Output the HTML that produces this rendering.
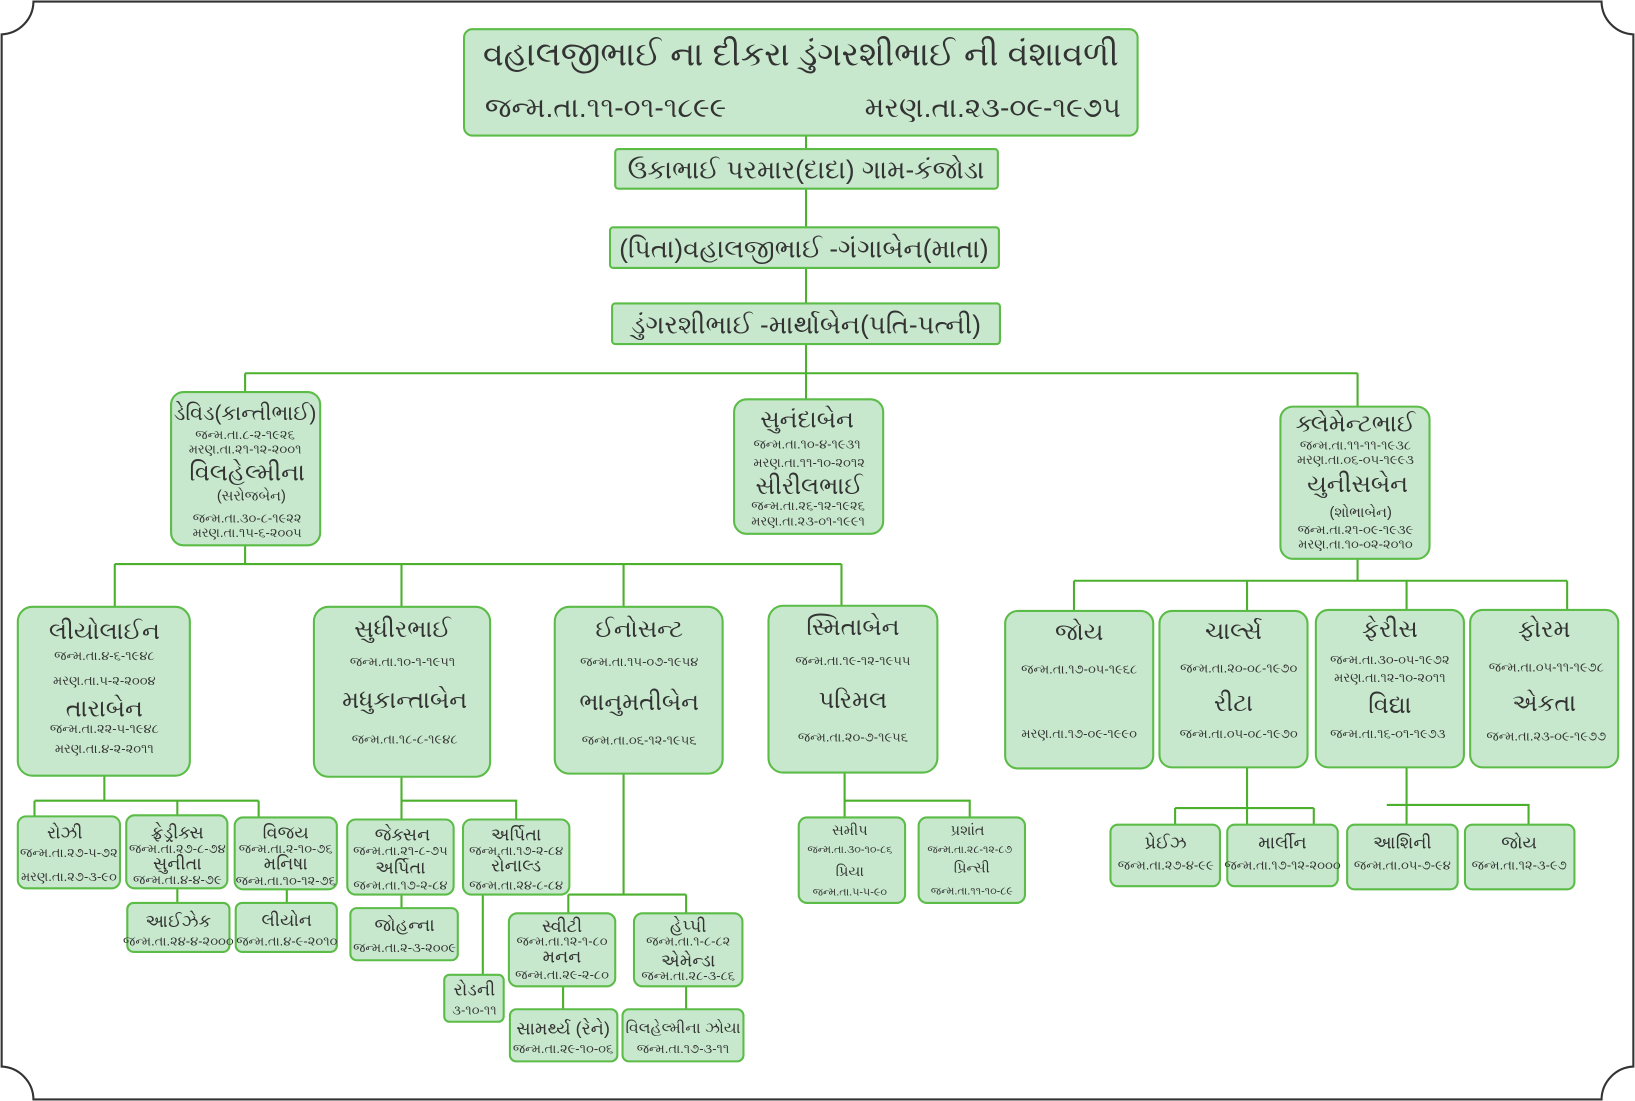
<!DOCTYPE html>
<html><head><meta charset="utf-8"><style>
html,body{margin:0;padding:0;background:#fff;}
svg{display:block}
.b{fill:#c7e8cd;stroke:#5cbc48;stroke-width:2}
.l{stroke:#4bb02c;stroke-width:2;fill:none}
text{font-family:"Liberation Sans","Noto Sans CJK SC",sans-serif;fill:#333;text-anchor:middle}
.t{font-size:32px}
.h{font-size:25px}
.dd{font-size:27px}
.n{font-size:23px}
.s{font-size:17px}
.p{font-size:14px}
.d{font-size:12.5px}
.e{font-size:10.5px}
</style></head><body>
<svg width="1635" height="1101" viewBox="0 0 1568 1056" xmlns="http://www.w3.org/2000/svg">
<path d="M32,1.5 H1536 A32,32 0 0 0 1566.5,33 V1023 A32,32 0 0 0 1536,1054.5 H32 A32,32 0 0 0 1.5,1023 V33 A32,32 0 0 0 32,1.5 Z" fill="none" stroke="#333" stroke-width="2"/>
<path class="l" d="M773,130V383 M235,358H1302 M235,358V376 M1302,358V390
M235,523V541 M110,541H807 M110,541V582 M385,541V582 M598,541V582 M807,541V581
M1302,536V557 M1030,557H1503 M1030,557V586 M1196,557V586 M1349,557V585 M1503,557V585
M100,744V768 M33,768H248 M33,768V783 M170,768V782 M248,768V784 M170,852V866 M275,853V866
M385,745V786 M385,768H495V786 M385,858V871 M463,858V935
M598,742V858 M545,858H658 M545,858V876 M658,858V876 M540,946V968 M658,946V968
M810,741V784 M810,768H930V784
M1196,736V791 M1127,775H1260 M1127,775V791 M1260,775V791
M1349,736V791 M1330,772H1466V791"/>
<rect class="b" x="445" y="28" width="646" height="102" rx="8"/>
<text class="t" x="768" y="63">વહાલજીભાઈ ના દીકરા ડુંગરશીભાઈ ની વંશાવળી</text>
<text class="dd" x="465" y="112" style="text-anchor:start">જન્મ.તા.૧૧-૦૧-૧૮૯૯</text>
<text class="dd" x="1075" y="112" style="text-anchor:end">મરણ.તા.૨૩-૦૯-૧૯૭૫</text>
<rect class="b" x="590" y="143" width="367" height="38" rx="3"/>
<text class="h" x="773" y="171">ઉકાભાઈ પરમાર(દાદા) ગામ-કંજોડા</text>
<rect class="b" x="585" y="218" width="373" height="39" rx="3"/>
<text class="h" x="771" y="247">(પિતા)વહાલજીભાઈ -ગંગાબેન(માતા)</text>
<rect class="b" x="587" y="291" width="372" height="39" rx="3"/>
<text class="h" x="773" y="320">ડુંગરશીભાઈ -માર્થાબેન(પતિ-પત્ની)</text>
<rect class="b" x="164" y="376" width="143" height="147" rx="12"/>
<text class="n" x="235" y="403" style="font-size:20px">ડેવિડ(કાન્તીભાઈ)</text>
<text class="d" x="235" y="421">જન્મ.તા.૮-૨-૧૯૨૬</text>
<text class="d" x="235" y="435">મરણ.તા.૨૧-૧૨-૨૦૦૧</text>
<text class="n" x="237" y="461">વિલહેલ્મીના</text>
<text class="p" x="241" y="480">(સરોજબેન)</text>
<text class="d" x="237" y="501">જન્મ.તા.૩૦-૮-૧૯૨૨</text>
<text class="d" x="237" y="515">મરણ.તા.૧૫-૬-૨૦૦૫</text>
<rect class="b" x="704" y="383" width="143" height="129" rx="12"/>
<text class="n" x="774" y="410">સુનંદાબેન</text>
<text class="d" x="774" y="430">જન્મ.તા.૧૦-૪-૧૯૩૧</text>
<text class="d" x="776" y="448">મરણ.તા.૧૧-૧૦-૨૦૧૨</text>
<text class="n" x="776" y="474">સીરીલભાઈ</text>
<text class="d" x="775" y="489">જન્મ.તા.૨૬-૧૨-૧૯૨૬</text>
<text class="d" x="775" y="504">મરણ.તા.૨૩-૦૧-૧૯૯૧</text>
<rect class="b" x="1228" y="390" width="143" height="146" rx="12"/>
<text class="n" x="1300" y="414">ક્લેમેન્ટભાઈ</text>
<text class="d" x="1300" y="431">જન્મ.તા.૧૧-૧૧-૧૯૩૮</text>
<text class="d" x="1300" y="445">મરણ.તા.૦૬-૦૫-૧૯૯૩</text>
<text class="n" x="1302" y="472">યુનીસબેન</text>
<text class="p" x="1305" y="496">(શોભાબેન)</text>
<text class="d" x="1300" y="512">જન્મ.તા.૨૧-૦૯-૧૯૩૯</text>
<text class="d" x="1300" y="526">મરણ.તા.૧૦-૦૨-૨૦૧૦</text>
<rect class="b" x="17" y="582" width="165" height="162" rx="14"/>
<text class="n" x="100" y="613">લીયોલાઈન</text>
<text class="d" x="100" y="633">જન્મ.તા.૪-૬-૧૯૪૮</text>
<text class="d" x="100" y="657">મરણ.તા.૫-૨-૨૦૦૪</text>
<text class="n" x="100" y="687">તારાબેન</text>
<text class="d" x="100" y="703">જન્મ.તા.૨૨-૫-૧૯૪૮</text>
<text class="d" x="100" y="722">મરણ.તા.૪-૨-૨૦૧૧</text>
<rect class="b" x="301" y="582" width="169" height="163" rx="14"/>
<text class="n" x="386" y="611">સુધીરભાઈ</text>
<text class="d" x="386" y="639">જન્મ.તા.૧૦-૧-૧૯૫૧</text>
<text class="n" x="388" y="679">મધુકાન્તાબેન</text>
<text class="d" x="388" y="713">જન્મ.તા.૧૮-૮-૧૯૪૮</text>
<rect class="b" x="532" y="582" width="161" height="160" rx="14"/>
<text class="n" x="613" y="611">ઈનોસન્ટ</text>
<text class="d" x="613" y="639">જન્મ.તા.૧૫-૦૭-૧૯૫૪</text>
<text class="n" x="613" y="681">ભાનુમતીબેન</text>
<text class="d" x="613" y="714">જન્મ.તા.૦૬-૧૨-૧૯૫૬</text>
<rect class="b" x="737" y="581" width="162" height="160" rx="14"/>
<text class="n" x="818" y="609">સ્મિતાબેન</text>
<text class="d" x="818" y="638">જન્મ.તા.૧૯-૧૨-૧૯૫૫</text>
<text class="n" x="818" y="679">પરિમલ</text>
<text class="d" x="818" y="711">જન્મ.તા.૨૦-૭-૧૯૫૬</text>
<rect class="b" x="964" y="586" width="142" height="151" rx="12"/>
<text class="n" x="1035" y="614">જોય</text>
<text class="d" x="1035" y="646">જન્મ.તા.૧૭-૦૫-૧૯૬૮</text>
<text class="d" x="1035" y="708">મરણ.તા.૧૭-૦૯-૧૯૯૦</text>
<rect class="b" x="1112" y="586" width="142" height="150" rx="12"/>
<text class="n" x="1183" y="613">ચાર્લ્સ</text>
<text class="d" x="1188" y="645">જન્મ.તા.૨૦-૦૮-૧૯૭૦</text>
<text class="n" x="1183" y="682">રીટા</text>
<text class="d" x="1188" y="708">જન્મ.તા.૦૫-૦૮-૧૯૭૦</text>
<rect class="b" x="1262" y="585" width="142" height="151" rx="12"/>
<text class="n" x="1333" y="611">ફેરીસ</text>
<text class="d" x="1333" y="637">જન્મ.તા.૩૦-૦૫-૧૯૭૨</text>
<text class="d" x="1333" y="654">મરણ.તા.૧૨-૧૦-૨૦૧૧</text>
<text class="n" x="1333" y="684">વિદ્યા</text>
<text class="d" x="1331" y="708">જન્મ.તા.૧૬-૦૧-૧૯૭૩</text>
<rect class="b" x="1410" y="585" width="142" height="151" rx="12"/>
<text class="n" x="1481" y="611">ફોરમ</text>
<text class="d" x="1483" y="644">જન્મ.તા.૦૫-૧૧-૧૯૭૮</text>
<text class="n" x="1481" y="682">એકતા</text>
<text class="d" x="1483" y="710">જન્મ.તા.૨૩-૦૯-૧૯૭૭</text>
<rect class="b" x="17" y="783" width="98" height="69" rx="8"/>
<text class="s" x="62" y="804">રોઝી</text>
<text class="d" x="66" y="822">જન્મ.તા.૨૭-૫-૭૨</text>
<text class="d" x="66" y="845">મરણ.તા.૨૭-૩-૯૦</text>
<rect class="b" x="121" y="782" width="97" height="70" rx="8"/>
<text class="s" x="170" y="804">ફ્રેડ્રીક્સ</text>
<text class="d" x="170" y="818">જન્મ.તા.૨૭-૮-૭૪</text>
<text class="s" x="170" y="834">સુનીતા</text>
<text class="d" x="170" y="848">જન્મ.તા.૪-૪-૭૯</text>
<rect class="b" x="225" y="784" width="98" height="69" rx="8"/>
<text class="s" x="274" y="804">વિજય</text>
<text class="d" x="274" y="818">જન્મ.તા.૨-૧૦-૭૬</text>
<text class="s" x="274" y="834">મનિષા</text>
<text class="d" x="274" y="849">જન્મ.તા.૧૦-૧૨-૭૬</text>
<rect class="b" x="122" y="866" width="98" height="47" rx="6"/>
<text class="s" x="171" y="889">આઈઝેક</text>
<text class="d" x="171" y="907">જન્મ.તા.૨૪-૪-૨૦૦૦</text>
<rect class="b" x="226" y="866" width="97" height="47" rx="6"/>
<text class="s" x="275" y="888">લીયોન</text>
<text class="d" x="275" y="907">જન્મ.તા.૪-૯-૨૦૧૦</text>
<rect class="b" x="333" y="786" width="102" height="72" rx="8"/>
<text class="s" x="386" y="806">જેક્સન</text>
<text class="d" x="384" y="820">જન્મ.તા.૨૧-૮-૭૫</text>
<text class="s" x="384" y="838">અર્પિતા</text>
<text class="d" x="384" y="853">જન્મ.તા.૧૭-૨-૮૪</text>
<rect class="b" x="444" y="786" width="102" height="72" rx="8"/>
<text class="s" x="495" y="806">અર્પિતા</text>
<text class="d" x="495" y="820">જન્મ.તા.૧૭-૨-૮૪</text>
<text class="s" x="495" y="836">રોનાલ્ડ</text>
<text class="d" x="495" y="853">જન્મ.તા.૨૪-૮-૮૪</text>
<rect class="b" x="336" y="871" width="103" height="50" rx="6"/>
<text class="s" x="388" y="893">જોહન્ના</text>
<text class="d" x="388" y="913">જન્મ.તા.૨-૩-૨૦૦૯</text>
<rect class="b" x="426" y="935" width="57" height="45" rx="5"/>
<text class="s" x="455" y="955">રોડની</text>
<text class="d" x="455" y="973">૩-૧૦-૧૧</text>
<rect class="b" x="488" y="876" width="102" height="70" rx="8"/>
<text class="s" x="539" y="894">સ્વીટી</text>
<text class="d" x="539" y="907">જન્મ.તા.૧૨-૧-૮૦</text>
<text class="s" x="539" y="923">મનન</text>
<text class="d" x="539" y="939">જન્મ.તા.૨૯-૨-૮૦</text>
<rect class="b" x="608" y="876" width="104" height="70" rx="8"/>
<text class="s" x="660" y="894">હેપ્પી</text>
<text class="d" x="660" y="907">જન્મ.તા.૧-૮-૮૨</text>
<text class="s" x="660" y="927">એમેન્ડા</text>
<text class="d" x="660" y="940">જન્મ.તા.૨૮-૩-૮૬</text>
<rect class="b" x="489" y="968" width="103" height="50" rx="6"/>
<text class="s" x="540" y="992">સામર્થ્ય (રેને)</text>
<text class="d" x="540" y="1010">જન્મ.તા.૨૯-૧૦-૦૬</text>
<rect class="b" x="597" y="968" width="116" height="50" rx="6"/>
<text class="s" x="655" y="991" style="font-size:15px">વિલહેલ્મીના ઝોયા</text>
<text class="d" x="655" y="1010">જન્મ.તા.૧૭-૩-૧૧</text>
<rect class="b" x="766" y="784" width="102" height="82" rx="8"/>
<text class="p" x="815" y="801">સમીપ</text>
<text class="e" x="815" y="818">જન્મ.તા.૩૦-૧૦-૮૬</text>
<text class="p" x="815" y="840">પ્રિયા</text>
<text class="e" x="815" y="859">જન્મ.તા.૫-૫-૯૦</text>
<rect class="b" x="881" y="784" width="102" height="82" rx="8"/>
<text class="p" x="928" y="801">પ્રશાંત</text>
<text class="e" x="930" y="818">જન્મ.તા.૨૮-૧૨-૮૭</text>
<text class="p" x="932" y="837">પ્રિન્સી</text>
<text class="e" x="932" y="858">જન્મ.તા.૧૧-૧૦-૮૯</text>
<rect class="b" x="1065" y="791" width="105" height="59" rx="7"/>
<text class="s" x="1118" y="814">પ્રેઈઝ</text>
<text class="d" x="1118" y="834">જન્મ.તા.૨૭-૪-૯૯</text>
<rect class="b" x="1177" y="791" width="106" height="59" rx="7"/>
<text class="s" x="1230" y="814">માર્લીન</text>
<text class="d" x="1230" y="834">જન્મ.તા.૧૭-૧૨-૨૦૦૦</text>
<rect class="b" x="1292" y="791" width="106" height="62" rx="7"/>
<text class="s" x="1345" y="814">આશિની</text>
<text class="d" x="1345" y="834">જન્મ.તા.૦૫-૭-૯૪</text>
<rect class="b" x="1405" y="791" width="105" height="62" rx="7"/>
<text class="s" x="1457" y="814">જોય</text>
<text class="d" x="1457" y="834">જન્મ.તા.૧૨-૩-૯૭</text>
</svg>
</body></html>
